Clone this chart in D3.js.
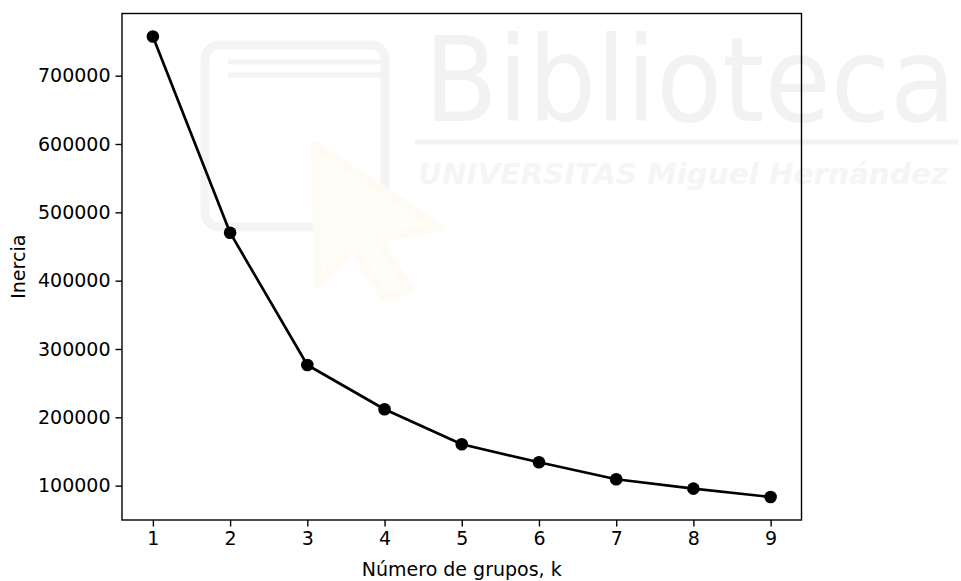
<!DOCTYPE html>
<html>
<head>
<meta charset="utf-8">
<script src="https://cdn.jsdelivr.net/npm/d3@7"></script>
<style>
  html, body { margin: 0; padding: 0; background: #ffffff; }
  svg { display: block; }
  text { font-family: "DejaVu Sans", sans-serif; }
</style>
</head>
<body>
<svg id="chart" width="961" height="581"></svg>
<script>
// Elbow curve: inertia for k = 1..9 clusters
const kValues = [1, 2, 3, 4, 5, 6, 7, 8, 9];
const inertia = [757300, 470200, 276600, 211800, 160500, 134200, 109300, 95600, 83400];
const xTickValues = [1, 2, 3, 4, 5, 6, 7, 8, 9];
const yTickValues = [100000, 200000, 300000, 400000, 500000, 600000, 700000];
const xLabel = "Número de grupos, k";
const yLabel = "Inercia";

const W = 961, H = 581;
const plot = { left: 122, right: 801.5, top: 13.5, bottom: 520 };

const svg = d3.select("#chart");

// Faint library watermark in the background
const wm = svg.append("g").attr("class", "watermark");
wm.append("rect")
  .attr("x", 205).attr("y", 45).attr("width", 180).attr("height", 182).attr("rx", 14)
  .attr("fill", "none").attr("stroke", "#f4f4f4").attr("stroke-width", 9);
[62, 75].forEach(y => wm.append("line")
  .attr("x1", 228).attr("x2", 385).attr("y1", y).attr("y2", y)
  .attr("stroke", "#f3f3f3").attr("stroke-width", 5));
wm.append("path")
  .attr("d", "M315,145 L440,228 L378,238 L410,290 L385,298 L352,248 L318,285 Z")
  .attr("fill", "#fefdf8").attr("stroke", "#fdfbf3").attr("stroke-width", 8)
  .attr("stroke-linejoin", "round");
wm.append("text")
  .attr("x", 424).attr("y", 121)
  .attr("font-family", "Lato, sans-serif").attr("font-weight", 400)
  .attr("font-size", 118).attr("fill", "#f2f2f2")
  .attr("textLength", 532).attr("lengthAdjust", "spacingAndGlyphs")
  .text("Biblioteca");
wm.append("line")
  .attr("x1", 415).attr("x2", 958).attr("y1", 142).attr("y2", 142)
  .attr("stroke", "#f2f2f2").attr("stroke-width", 5);
wm.append("text")
  .attr("x", 418).attr("y", 184)
  .attr("font-family", "'Liberation Serif', serif").attr("font-style", "italic").attr("font-weight", "bold")
  .attr("font-size", 28).attr("fill", "#f5f5f5")
  .attr("textLength", 530).attr("lengthAdjust", "spacingAndGlyphs")
  .text("UNIVERSITAS Miguel Hernández");

// Scales with 5% padding like the default data margins
const xMin = d3.min(kValues), xMax = d3.max(kValues);
const xPad = (xMax - xMin) * 0.05;
const x = d3.scaleLinear().domain([xMin - xPad, xMax + xPad]).range([plot.left, plot.right]);
const yMin = d3.min(inertia), yMax = d3.max(inertia);
const yPad = (yMax - yMin) * 0.05;
const y = d3.scaleLinear().domain([yMin - yPad, yMax + yPad]).range([plot.bottom, plot.top]);

const fontSize = 19;

// Axes
const xAxis = d3.axisBottom(x).tickValues(xTickValues).tickSize(6.5).tickPadding(5).tickFormat(d3.format("d"));
const yAxis = d3.axisLeft(y).tickValues(yTickValues).tickSize(6.5).tickPadding(5).tickFormat(d3.format("d"));

const gx = svg.append("g").attr("transform", `translate(0,${plot.bottom})`).call(xAxis);
const gy = svg.append("g").attr("transform", `translate(${plot.left},0)`).call(yAxis);
[gx, gy].forEach(g => {
  g.select(".domain").remove();
  g.selectAll(".tick line").attr("stroke", "#000").attr("stroke-width", 1.4);
  g.selectAll(".tick text").attr("fill", "#000").attr("font-size", fontSize)
    .attr("font-family", "'DejaVu Sans', sans-serif");
});

// Frame
svg.append("rect")
  .attr("x", plot.left).attr("y", plot.top)
  .attr("width", plot.right - plot.left).attr("height", plot.bottom - plot.top)
  .attr("fill", "none").attr("stroke", "#000").attr("stroke-width", 1.4);

// Line and markers
const line = d3.line().x((d, i) => x(kValues[i])).y(d => y(d));
svg.append("path").datum(inertia)
  .attr("d", line).attr("fill", "none").attr("stroke", "#000")
  .attr("stroke-width", 2.7).attr("stroke-linejoin", "round");
svg.append("g").selectAll("circle").data(inertia).join("circle")
  .attr("cx", (d, i) => x(kValues[i])).attr("cy", d => y(d)).attr("r", 6.3)
  .attr("fill", "#000");

// Axis labels
svg.append("text")
  .attr("x", (plot.left + plot.right) / 2).attr("y", 576)
  .attr("text-anchor", "middle").attr("font-size", fontSize).attr("fill", "#000")
  .text(xLabel);
svg.append("text")
  .attr("transform", `translate(25,${(plot.top + plot.bottom) / 2}) rotate(-90)`)
  .attr("text-anchor", "middle").attr("font-size", fontSize).attr("fill", "#000")
  .text(yLabel);
</script>
</body>
</html>
